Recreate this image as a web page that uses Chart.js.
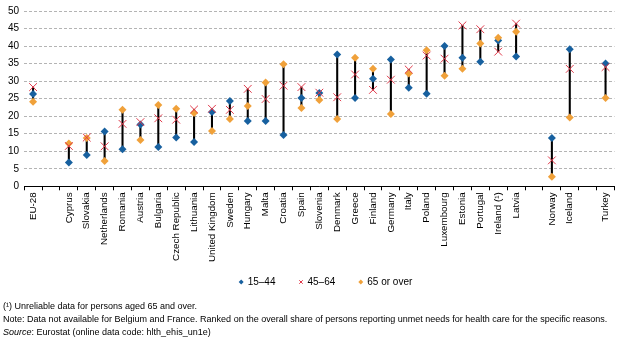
<!DOCTYPE html>
<html>
<head>
<meta charset="utf-8">
<title>Unmet needs for health care by age</title>
<script src="https://cdn.jsdelivr.net/npm/chart.js@4"></script>
<style>
  body { margin: 0; background: #fff; font-family: 'Liberation Sans', Arial, sans-serif; }
  #wrap { position: relative; width: 621px; height: 308px; }
  .notes { position: absolute; left: 3px; top: 300px; font-size: 9px; line-height: 13px; color: #000; white-space: nowrap; }
</style>
</head>
<body>
<div id="wrap"><canvas id="chart"></canvas></div>
<div class="notes">
  <div>(&sup1;) Unreliable data for persons aged 65 and over.</div>
  <div>Note: Data not available for Belgium and France. Ranked on the overall share of persons reporting unmet needs for health care for the specific reasons.</div>
  <div><i>Source</i>: Eurostat (online data code: hlth_ehis_un1e)</div>
</div>
<script>
// empty strings leave a gap between groups of countries
const countries = ['EU-28', '', 'Cyprus', 'Slovakia', 'Netherlands', 'Romania', 'Austria', 'Bulgaria',
    'Czech Republic', 'Lithuania', 'United Kingdom', 'Sweden', 'Hungary', 'Malta', 'Croatia', 'Spain',
    'Slovenia', 'Denmark', 'Greece', 'Finland', 'Germany', 'Italy', 'Poland', 'Luxembourg', 'Estonia',
    'Portugal', 'Ireland (\u00b9)', 'Latvia', '', 'Norway', 'Iceland', '', 'Turkey'];

const age15to44 = [26.3, null, 6.8, 8.9, 15.6, 10.6, 17.6, 11.2, 13.9, 12.6, 21.2, 24.3, 18.6, 18.6, 14.6, 25.2,
    26.6, 37.6, 25.2, 30.7, 36.2, 28.1, 26.4, 40.0, 36.7, 35.5, 41.6, 37.0, null, 13.8, 39.1, null, 35.0];
const age45to64 = [28.3, null, 11.5, 13.9, 11.4, 17.8, 18.3, 19.4, 19.0, 21.9, 22.1, 21.8, 27.8, 24.9, 28.7, 28.3,
    26.7, 25.4, 31.9, 27.5, 30.4, 33.3, 37.3, 36.4, 45.9, 44.8, 38.4, 46.4, null, 7.4, 33.5, null, 34.0];
const age65plus = [24.1, null, 12.2, 13.8, 7.2, 21.8, 13.2, 23.2, 22.1, 20.9, 15.8, 19.2, 22.9, 29.6, 34.8, 22.3,
    24.6, 19.2, 36.7, 33.5, 20.6, 32.2, 38.8, 31.5, 33.5, 40.7, 42.4, 44.1, null, 2.7, 19.6, null, 25.2];

const seriesNames = ['15\u201344', '45\u201364', '65 or over'];

// min-max span per country, drawn as a thin floating bar
const ranges = countries.map((c, i) => {
    const vals = [age15to44[i], age45to64[i], age65plus[i]].filter(v => v !== null);
    if (!vals.length) return null;
    return [Math.min(...vals), Math.max(...vals)];
});

Chart.defaults.font.family = "'Liberation Sans', Arial, sans-serif";
Chart.defaults.color = '#000';

const blue = '#17609f';
const red = '#e0394a';
const orange = '#f0a13a';

// legend padding also adds space above the items, pull them up closer to the axis labels
// and nudge the row a bit to the right
const moveLegend = {
    id: 'moveLegend',
    afterLayout(chart) {
        const legend = chart.legend;
        if (!legend) return;
        legend.top -= 11;
        legend.bottom -= 11;
        legend.left += 16;
        legend.right += 16;
    }
};

const ctx = document.querySelector('#chart');
new Chart(ctx, {
    data: {
        labels: countries,
        datasets: [
            {
                type: 'line',
                label: seriesNames[0],
                data: age15to44,
                showLine: false,
                pointStyle: 'rectRot',
                pointRadius: 4,
                pointBackgroundColor: blue,
                pointBorderColor: blue,
                pointBorderWidth: 0,
                backgroundColor: blue,
                borderColor: blue,
                order: 2
            },
            {
                type: 'line',
                label: seriesNames[1],
                data: age45to64,
                showLine: false,
                pointStyle: 'crossRot',
                pointRadius: 5.5,
                pointBorderColor: red,
                pointBorderWidth: 1,
                backgroundColor: red,
                borderColor: red,
                order: 0
            },
            {
                type: 'line',
                label: seriesNames[2],
                data: age65plus,
                showLine: false,
                pointStyle: 'rectRot',
                pointRadius: 4,
                pointBackgroundColor: orange,
                pointBorderColor: orange,
                pointBorderWidth: 0,
                backgroundColor: orange,
                borderColor: orange,
                order: 1
            },
            {
                type: 'bar',
                label: 'range',
                data: ranges,
                backgroundColor: '#000',
                barThickness: 1.4,
                order: 3
            }
        ]
    },
    options: {
        responsive: true,
        maintainAspectRatio: false,
        animation: false,
        layout: { padding: { left: 3, right: 4, top: 6, bottom: 0 } },
        plugins: {
            tooltip: { enabled: false },
            legend: {
                position: 'bottom',
                labels: {
                    usePointStyle: true,
                    boxWidth: 3,
                    boxHeight: 3.5,
                    padding: 24,
                    font: { size: 10 },
                    filter: (item) => item.datasetIndex < 3,
                    sort: (a, b) => a.datasetIndex - b.datasetIndex
                }
            }
        },
        scales: {
            x: {
                offset: true,
                grid: { offset: true, drawOnChartArea: false, tickLength: 4, color: '#000' },
                border: { color: '#000', width: 1 },
                ticks: { autoSkip: false, maxRotation: 90, minRotation: 90, padding: 2, font: { size: 9.8 } }
            },
            y: {
                min: 0,
                max: 50,
                ticks: { stepSize: 5, padding: 5, font: { size: 10 } },
                grid: { color: '#b4b4b4', drawTicks: false },
                border: { display: false, dash: [3, 2] }
            }
        }
    },
    plugins: [moveLegend]
});
</script>
</body>
</html>
